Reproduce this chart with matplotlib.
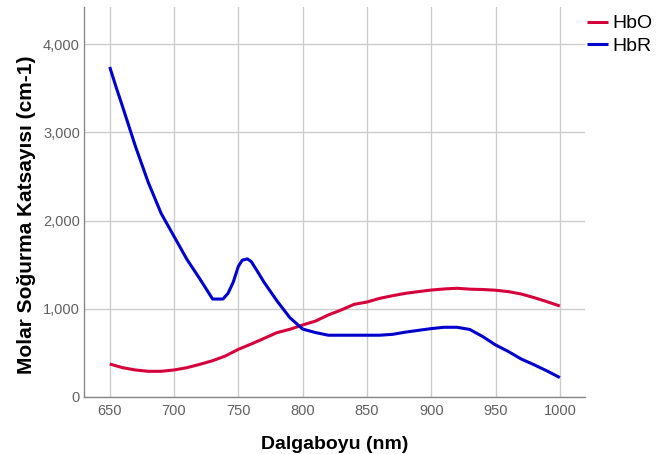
import matplotlib.pyplot as plt
from matplotlib.ticker import FuncFormatter

# dalga boyu (nm) i molarni koeficijenti apsorpcije
hbo_x = [650, 660, 670, 680, 690, 700, 710, 720, 730, 740, 750, 760, 770, 780, 790,
         800, 810, 820, 830, 840, 850, 860, 870, 880, 890, 900, 910, 920, 930, 940,
         950, 960, 970, 980, 990, 1000]
hbo_y = [374, 332, 306, 291, 291, 306, 332, 370, 411, 465, 540, 600, 664, 729, 767,
         816, 860, 930, 986, 1050, 1076, 1118, 1148, 1175, 1194, 1212, 1224, 1232, 1222, 1218,
         1210, 1194, 1167, 1126, 1080, 1031]

hbr_x = [650, 655, 660, 670, 680, 690, 700, 710, 720, 730, 738, 742, 746, 750, 753,
         757, 760, 765, 770, 780, 790, 800, 810, 820, 830, 840, 850, 860, 870, 880,
         890, 900, 910, 920, 930, 940, 950, 960, 970, 980, 990, 1000]
hbr_y = [3740, 3510, 3290, 2840, 2430, 2080, 1820, 1560, 1340, 1110, 1110, 1175, 1300, 1480, 1550,
         1565, 1535, 1420, 1300, 1090, 900, 770, 730, 700, 700, 700, 700, 700, 710, 735,
         755, 775, 790, 790, 765, 685, 590, 515, 430, 365, 295, 220]

x_ticks = [650, 700, 750, 800, 850, 900, 950, 1000]
y_ticks = [0, 1000, 2000, 3000, 4000]

plt.rcParams['font.family'] = ['Liberation Sans', 'DejaVu Sans']

fig = plt.figure(figsize=(6.7, 4.54), dpi=100)
ax = fig.add_axes([0.1254, 0.1256, 0.7476, 0.859])

ax.plot(hbo_x, hbo_y, c='#d5003b', lw=2.2, label='HbO', solid_capstyle='butt')
ax.plot(hbr_x, hbr_y, c='#0000cc', lw=2.2, label='HbR', solid_capstyle='butt')

ax.set_xlim(630, 1019.5)
ax.set_ylim(0, 4420)
ax.set_xticks(x_ticks)
ax.set_yticks(y_ticks)
ax.yaxis.set_major_formatter(FuncFormatter(lambda v, p: f'{int(v):,}'))
ax.grid(True, color='#cccccc', lw=1)
ax.set_axisbelow(True)
ax.tick_params(length=0, labelsize=10.5, labelcolor='#606060')
ax.tick_params(axis='y', pad=3)
ax.tick_params(axis='x', pad=5)

for s in ['top', 'right']:
    ax.spines[s].set_visible(False)
for s in ['left', 'bottom']:
    ax.spines[s].set_color('#888888')
    ax.spines[s].set_linewidth(1)

ax.set_xlabel('Dalgaboyu (nm)', fontsize=14, fontweight='bold', labelpad=13)
ax.set_ylabel('Molar Soğurma Katsayısı (cm-1)', fontsize=15, fontweight='bold', labelpad=5)
ax.yaxis.label.set_y(0.467)

leg = ax.legend(loc='upper left', bbox_to_anchor=(0.988, 1.0), frameon=False,
                handlelength=1.1, handletextpad=0.2, fontsize=14, labelspacing=0.25,
                borderaxespad=0)

fig.savefig('out.png', dpi=100)
